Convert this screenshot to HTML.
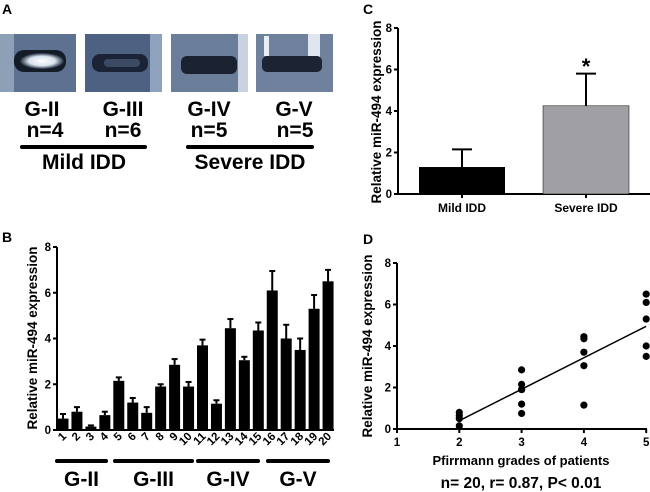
<!DOCTYPE html>
<html><head><meta charset="utf-8"><style>
html,body{margin:0;padding:0;background:#fff;}
svg{display:block;font-family:"Liberation Sans",Arial,sans-serif;font-weight:bold;}
</style></head><body>
<svg id="fig" width="650" height="492" viewBox="0 0 650 492" xmlns="http://www.w3.org/2000/svg">
<defs>
<radialGradient id="discBright" cx="0.5" cy="0.5" r="0.5"><stop offset="0" stop-color="#ffffff"/><stop offset="0.6" stop-color="#d8e2ee"/><stop offset="1" stop-color="#1e2a3a"/></radialGradient>
</defs>
<g>
<text x="2" y="14" font-size="14">A</text>
<g>
<rect x="0" y="34" width="76" height="58" fill="#5d7290"/>
<rect x="0" y="34" width="14" height="58" fill="#8ea0b8"/>
<rect x="14" y="50" width="52" height="22" rx="10" fill="#141c28"/>
<ellipse cx="42" cy="61" rx="22" ry="8" fill="url(#discBright)"/>
</g>
<g>
<rect x="85" y="34" width="77" height="58" fill="#4d6283"/>
<rect x="150" y="34" width="12" height="58" fill="#8fa2bd"/>
<rect x="92" y="54" width="56" height="18" rx="8" fill="#1a2436"/>
<rect x="104" y="59" width="36" height="8" rx="4" fill="#3b4a62"/>
</g>
<g>
<rect x="171" y="34" width="77" height="58" fill="#6a7d99"/>
<rect x="238" y="34" width="10" height="58" fill="#c8d2e0"/>
<rect x="181" y="56" width="56" height="18" rx="6" fill="#1a2232"/>
</g>
<g>
<rect x="256" y="34" width="77" height="58" fill="#6f819c"/>
<rect x="264" y="36" width="5" height="20" fill="#e8eef6"/>
<rect x="308" y="34" width="12" height="24" fill="#dfe6f0"/>
<rect x="262" y="56" width="60" height="16" rx="5" fill="#1c2434"/>
</g>
<g font-size="21" text-anchor="middle">
<text x="42" y="116">G-II</text>
<text x="123" y="116">G-III</text>
<text x="209" y="116">G-IV</text>
<text x="294" y="116">G-V</text>
<text x="45" y="137">n=4</text>
<text x="123" y="137">n=6</text>
<text x="209" y="137">n=5</text>
<text x="295" y="137">n=5</text>
<text x="84" y="169">Mild IDD</text>
<text x="250" y="169">Severe IDD</text>
</g>
<line x1="22" y1="147" x2="145" y2="147" stroke="#000" stroke-width="4" stroke-linecap="round"/>
<line x1="188" y1="147" x2="312" y2="147" stroke="#000" stroke-width="4" stroke-linecap="round"/>
</g>
<text x="2" y="242" font-size="14">B</text>
<text x="363" y="14" font-size="14">C</text>
<text x="363" y="244" font-size="14">D</text>
<g id="pb"></g>
<g id="pc"></g>
<g id="pd"></g>
</svg>
<script>
var sampleIds = ["1","2","3","4","5","6","7","8","9","10","11","12","13","14","15","16","17","18","19","20"];
var sampleValues = [0.5,0.8,0.15,0.65,2.15,1.2,0.75,1.9,2.85,1.9,3.7,1.15,4.45,3.05,4.35,6.1,4.0,3.5,5.3,6.5];
var sampleErrTops = [0.7,1.0,0.2,0.8,2.3,1.4,1.0,2.0,3.1,2.1,3.95,1.3,4.85,3.2,4.7,6.95,4.6,4.0,5.9,7.0];
var yTicks = [0,2,4,6,8];
var groupNames = ["Mild IDD","Severe IDD"];
var groupMeans = [1.3,4.25];
var groupErrTops = [2.15,5.8];
var gradeTicks = [1,2,3,4,5];
var pointGrades = [2,2,2,2,3,3,3,3,3,3,4,4,4,4,4,5,5,5,5,5];
var pointValues = [0.5,0.8,0.15,0.65,2.15,1.2,0.75,1.9,2.85,1.9,3.7,1.15,4.45,3.05,4.35,6.1,4.0,3.5,5.3,6.5];
var fitLine = [[2,0.4],[5,4.95]];

var NS="http://www.w3.org/2000/svg";
function mk(parent,tag,attrs,txt){var e=document.createElementNS(NS,tag);for(var k in attrs)e.setAttribute(k,attrs[k]);if(txt!==undefined)e.textContent=txt;parent.appendChild(e);return e;}

function yAxis(g,x,yf,x2,ytitleX,ytitleY){
  var ax=mk(g,'line',{x1:x,y1:yf(8),x2:x,y2:yf(0),stroke:'#000','stroke-width':2});
  
  
  var xa=mk(g,'line',{x1:x,y1:yf(0),x2:x2,y2:yf(0),stroke:'#000','stroke-width':2});
  
  
  yTicks.forEach(function(t){
    var tk=mk(g,'line',{x1:x-4,y1:yf(t),x2:x,y2:yf(t),stroke:'#000','stroke-width':2});
    
    
    var tl=mk(g,'text',{x:x-6,y:yf(t)+4,'font-size':11.5,'text-anchor':'end'},String(t));
    
    
  });
  var tt=mk(g,'text',{x:0,y:0,'font-size':13.5,'text-anchor':'middle',transform:'translate('+ytitleX+','+ytitleY+') rotate(-90)'},'Relative miR-494 expression');
  
  
}

(function(){
  var g=document.getElementById('pb');
  var y0=430,y8=247; function yf(v){return y0-(y0-y8)*v/8;}
  function xf(i){return 63+i*13.95;}
  yAxis(g,57,yf,334,37,338);
  sampleValues.forEach(function(v,i){
    var cx=xf(i);
    var eb=mk(g,'line',{x1:cx,y1:yf(v),x2:cx,y2:yf(sampleErrTops[i]),stroke:'#000','stroke-width':2});
    
    
    var cap=mk(g,'line',{x1:cx-3,y1:yf(sampleErrTops[i]),x2:cx+3,y2:yf(sampleErrTops[i]),stroke:'#000','stroke-width':2});
    
    
    var b=mk(g,'rect',{x:cx-5.5,y:yf(v),width:11,height:yf(0)-yf(v),fill:'#000'});
    
    
    var tl=mk(g,'text',{x:0,y:0,'font-size':11.5,'text-anchor':'end',transform:'translate('+(cx+4)+',437) rotate(-45)'},sampleIds[i]);
    
    
  });
  var grp=[["G-II",57,106],["G-III",115,192],["G-IV",198,258],["G-V",268,328]];
  grp.forEach(function(s){
    var l=mk(g,'line',{x1:s[1],y1:461,x2:s[2],y2:461,stroke:'#000','stroke-width':4,'stroke-linecap':'round'});
    
    
    var t=mk(g,'text',{x:(s[1]+s[2])/2,y:486,'font-size':21,'text-anchor':'middle'},s[0]);
    
    
  });
})();

(function(){
  var g=document.getElementById('pc');
  var y0=194,y8=28; function yf(v){return y0-(y0-y8)*v/8;}
  var centers=[462,586];
  yAxis(g,398,yf,650,381,112);
  groupMeans.forEach(function(v,i){
    var cx=centers[i];
    var eb=mk(g,'line',{x1:cx,y1:yf(v),x2:cx,y2:yf(groupErrTops[i]),stroke:'#000','stroke-width':2});
    
    
    var cap=mk(g,'line',{x1:cx-10,y1:yf(groupErrTops[i]),x2:cx+10,y2:yf(groupErrTops[i]),stroke:'#000','stroke-width':2});
    
    
    var b=mk(g,'rect',{x:cx-43,y:yf(v),width:86,height:yf(0)-yf(v),fill:i?'#a0a0a4':'#000',stroke:'#000','stroke-width':i?0.5:0});
    
    
    var tk=mk(g,'line',{x1:cx,y1:yf(0),x2:cx,y2:yf(0)+4,stroke:'#000','stroke-width':2});
    
    
    var t=mk(g,'text',{x:cx,y:212,'font-size':12,'text-anchor':'middle'},groupNames[i]);
    
    
  });
  var st=mk(g,'text',{x:586,y:74,'font-size':22,'text-anchor':'middle'},'*');
  
  
})();

(function(){
  var g=document.getElementById('pd');
  var y0=429,y8=263; function yf(v){return y0-(y0-y8)*v/8;}
  function xf(v){return 397+(v-1)*62.3;}
  yAxis(g,397,yf,647,372,346);
  gradeTicks.forEach(function(t){
    var tk=mk(g,'line',{x1:xf(t),y1:yf(0),x2:xf(t),y2:yf(0)+4,stroke:'#000','stroke-width':2});
    
    
    var tl=mk(g,'text',{x:xf(t),y:446,'font-size':11.5,'text-anchor':'middle'},String(t));
    
    
  });
  var fl=mk(g,'line',{x1:xf(fitLine[0][0]),y1:yf(fitLine[0][1]),x2:xf(fitLine[1][0]),y2:yf(fitLine[1][1]),stroke:'#000','stroke-width':1.5});
  
  
  pointValues.forEach(function(v,i){
    var c=mk(g,'circle',{cx:xf(pointGrades[i]),cy:yf(v),r:3.6,fill:'#000'});
    
    
  });
  var xt=mk(g,'text',{x:521,y:465,'font-size':13,'text-anchor':'middle'},'Pfirrmann grades of patients');
  
  
  var st=mk(g,'text',{x:521,y:488,'font-size':15.5,'text-anchor':'middle'},'n= 20, r= 0.87, P< 0.01');
  
  
})();
</script>
</body></html>
